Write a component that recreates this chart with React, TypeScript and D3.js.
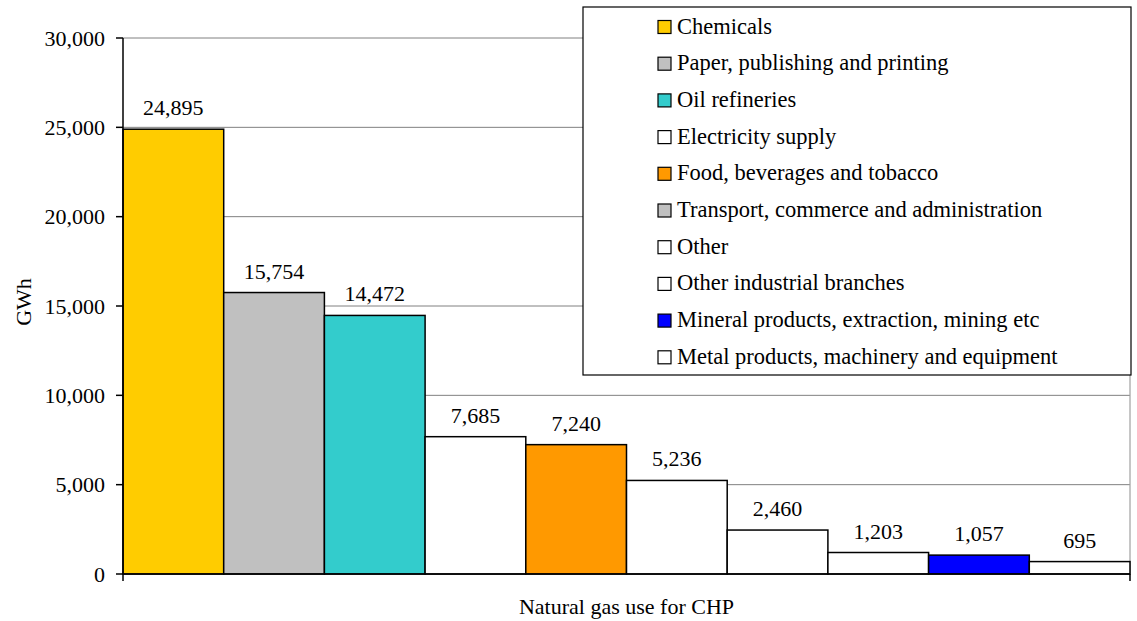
import React from "react";
import * as d3 from "d3";

const categories = [
  "Chemicals",
  "Paper, publishing and printing",
  "Oil refineries",
  "Electricity supply",
  "Food, beverages and tobacco",
  "Transport, commerce and administration",
  "Other",
  "Other industrial branches",
  "Mineral products, extraction, mining etc",
  "Metal products, machinery and equipment",
];
const values = [24895, 15754, 14472, 7685, 7240, 5236, 2460, 1203, 1057, 695];
const barColors = [
  "#FFCC00", "#C0C0C0", "#33CCCC", "#FFFFFF", "#FF9900",
  "#FFFFFF", "#FFFFFF", "#FFFFFF", "#0000FF", "#FFFFFF",
];
const legendColors = [
  "#FFCC00", "#C0C0C0", "#33CCCC", "#FFFFFF", "#FF9900",
  "#C0C0C0", "#FFFFFF", "#FFFFFF", "#0000FF", "#FFFFFF",
];
const yTicks = [0, 5000, 10000, 15000, 20000, 25000, 30000];
const xTitle = "Natural gas use for CHP";
const yTitle = "GWh";

const W = 1137;
const H = 621;
const L = 123, R = 1130, T = 38, B = 574;
const FONT = '"Liberation Serif", "DejaVu Serif", serif';
const FS = 22;

export default function App() {
  const x = d3.scaleBand<string>().domain(categories).range([L, R]).padding(0);
  const y = d3.scaleLinear().domain([0, 30000]).range([B, T]);
  const fmt = d3.format(",");

  const legX = 583, legY = 7, legW = 548, legH = 368;
  const rowH = 36.7;
  const firstBase = 33.5;

  return (
    <svg
      width={W}
      height={H}
      style={{ position: "absolute", left: 0, top: 0, display: "block", background: "#fff", fontFamily: FONT, fontSize: FS }}
    >
      <rect x={0} y={0} width={W} height={H} fill="#fff" />
      {yTicks.filter((t) => t > 0).map((t) => (
        <line key={"g" + t} x1={L} x2={R} y1={y(t)} y2={y(t)} stroke="#808080" strokeWidth={1} />
      ))}
      <line x1={R} x2={R} y1={T} y2={B} stroke="#a0a0a0" strokeWidth={1.2} />
      {categories.map((c, i) => (
        <rect
          key={c}
          x={x(c)!}
          y={y(values[i])}
          width={x.bandwidth()}
          height={B - y(values[i])}
          fill={barColors[i]}
          stroke="#000"
          strokeWidth={1.5}
        />
      ))}
      {categories.map((c, i) => (
        <text
          key={"l" + c}
          x={x(c)! + x.bandwidth() / 2}
          y={y(values[i]) - 14}
          textAnchor="middle"
          fill="#000"
        >
          {fmt(values[i])}
        </text>
      ))}
      <line x1={L} x2={L} y1={T} y2={B} stroke="#000" strokeWidth={1.5} />
      {yTicks.map((t) => (
        <g key={"t" + t}>
          <line x1={L - 7} x2={L} y1={y(t)} y2={y(t)} stroke="#000" strokeWidth={1.5} />
          <text x={105} y={y(t) + 7.5} textAnchor="end" fill="#000">
            {fmt(t)}
          </text>
        </g>
      ))}
      <line x1={L} x2={R} y1={B} y2={B} stroke="#000" strokeWidth={1.5} />
      <line x1={L} x2={L} y1={B} y2={B + 7} stroke="#000" strokeWidth={1.5} />
      <line x1={R} x2={R} y1={B} y2={B + 7} stroke="#000" strokeWidth={1.5} />
      <text x={(L + R) / 2} y={614} textAnchor="middle" fill="#000">
        {xTitle}
      </text>
      <text transform={`translate(31,302) rotate(-90)`} textAnchor="middle" fill="#000">
        {yTitle}
      </text>
      <rect x={legX} y={legY} width={legW} height={legH} fill="#fff" stroke="#000" strokeWidth={1.2} />
      {categories.map((c, i) => {
        const base = firstBase + i * rowH;
        return (
          <g key={"leg" + c}>
            <rect x={658} y={base - 13} width={13} height={13} fill={legendColors[i]} stroke="#000" strokeWidth={1.2} />
            <text x={677} y={base} fill="#000" fontSize={22.5}>
              {c}
            </text>
          </g>
        );
      })}
    </svg>
  );
}
